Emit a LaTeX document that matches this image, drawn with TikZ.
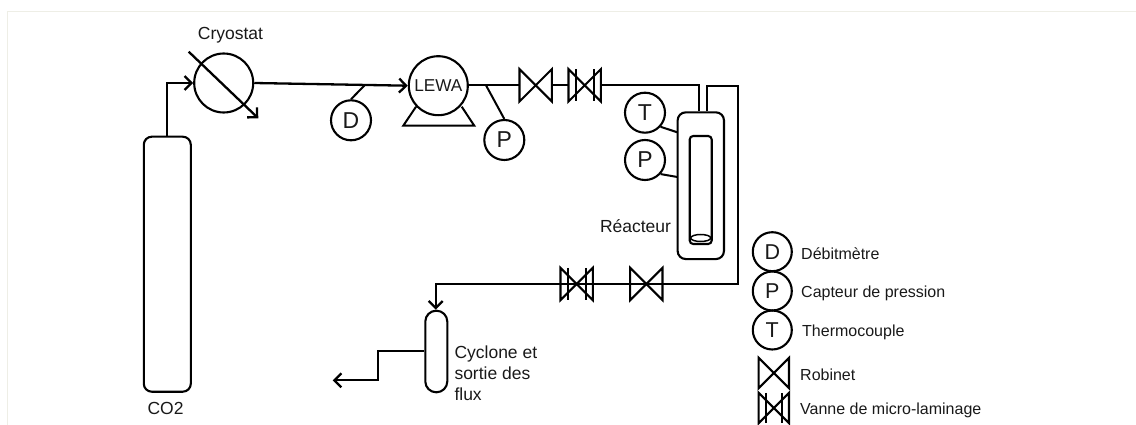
\documentclass[tikz,border=0pt]{standalone}
\usepackage{fontspec}
\setmainfont{Liberation Sans}
\usetikzlibrary{arrows.meta,shapes.geometric}
\definecolor{framecol}{HTML}{EEEEE6}
\tikzset{
  x=1pt,y=-1pt,
  pipe/.style={draw=black,line width=2.3pt},
  flow/.style={pipe,-{Straight Barb[length=7pt,width=14pt,line width=2.3pt]}},
  thin link/.style={draw=black,line width=2pt},
  gauge/.style={circle,draw=black,line width=2.1pt,minimum size=40pt,inner sep=0pt,font=\fontsize{23}{24}\selectfont,text=black!90},
  smallgauge/.style={gauge,minimum size=39pt,font=\fontsize{21.5}{24}\selectfont},
  bigcircle/.style={circle,draw=black,line width=2.1pt,minimum size=59pt,inner sep=0pt,font=\fontsize{17.2}{20}\selectfont,text=black!90},
  valvebox/.style={rectangle,inner sep=0pt,minimum width=32pt,minimum height=32pt},
  legendvalvebox/.style={rectangle,inner sep=0pt,minimum width=30pt,minimum height=30pt},
  label text/.style={inner sep=0pt,font=\fontsize{17.5}{21}\selectfont,text=black!90},
  legend text/.style={inner sep=0pt,anchor=west,font=\fontsize{16}{19}\selectfont,text=black!90},
  vessel/.style={draw=black,line width=2.1pt,inner sep=0pt},
}
\newcommand{\valvetie}[1]{%
  \draw[pipe,line width=2.1pt,line join=miter] (#1.north west)--(#1.south east)--(#1.north east)--(#1.south west)--cycle;}
\newcommand{\microvalve}[1]{%
  \valvetie{#1}
  \draw[pipe,line width=2.1pt] ([xshift=7.3pt]#1.north west)--([xshift=7.3pt]#1.south west)
     ([xshift=-7.3pt]#1.north east)--([xshift=-7.3pt]#1.south east);}
\begin{document}
\begin{tikzpicture}
\useasboundingbox (0,0) rectangle (1136,425);
\coordinate (fa) at (7.5,425);
\coordinate (fb) at (7.5,11.5);
\coordinate (fc) at (1136,11.5);
\draw[draw=framecol,line width=1pt] (fa)--(fb)--(fc);

% CO2 tank
\node[vessel,rounded corners=8pt,minimum width=47pt,minimum height=255pt] (tank) at (167.3,264.2) {};
\node[label text] (co2) at (165.5,408) {CO2};

% cryostat
\node[bigcircle] (cryo) at (223.7,83) {};
\node[label text,anchor=center] (cryotxt) at (230.5,35.5) {Cryostat};
\coordinate (ca) at (188.7,51.7);
\coordinate (cb) at (258.3,118.3);
\draw[flow] (ca)--(cb);
\coordinate (t1) at (166.7,83);
\draw[flow] (tank.north -| t1)--(t1)--(cryo.west);

% pump
\node[bigcircle] (lewa) at (438.3,85.7) {LEWA};
\coordinate (ba) at (416,106.7);
\coordinate (bb) at (403.3,125.7);
\coordinate (bc) at (474.3,125.7);
\coordinate (bd) at (461.7,106.7);
\draw[pipe,line width=2pt] (ba)--(bb)--(bc)--(bd);
\draw[flow] (cryo.east)--(lewa.west);

% D gauge
\node[gauge] (d1) at (351,120.3) {D};
\coordinate (dtap) at (364.3,85.6);
\draw[thin link] (dtap)--(d1.north);

% valves top
\node[valvebox] (v1) at (535.7,85.3) {};
\node[valvebox] (v2) at (584.7,85.3) {};
\valvetie{v1}
\microvalve{v2}
\draw[pipe] (lewa.east |- v1.west)--(v1.west);
\draw[pipe] (v1.east)--(v2.west);

% P gauge
\node[gauge] (p1) at (504.3,140) {P};
\coordinate (ptap) at (486,85.3);
\draw[thin link] (ptap)--(p1.north);

% reactor
\node[vessel,rounded corners=8pt,minimum width=46.3pt,minimum height=146.7pt] (reac) at (700.8,185.7) {};
\node[vessel,rounded corners=3.5pt,minimum width=22pt,minimum height=108pt] (inner) at (700.7,190) {};
\node[draw=black,line width=1.5pt,ellipse,minimum width=20pt,minimum height=7pt,inner sep=0pt] (melt) at (700.7,238) {};
\node[label text,anchor=center] (reactxt) at (635.5,225.7) {Réacteur};
\coordinate (r1) at (699.3,85.3);
\coordinate (r2) at (707,85.8);
\coordinate (r3) at (737.7,85.8);
\coordinate (r4) at (737.7,284);
\coordinate (r5) at (435.7,284);
\draw[pipe] (v2.east)--(r1)--(r1 |- reac.north);
\node[gauge] (t1g) at (645,112.7) {T};
\node[gauge] (p2) at (645,160) {P};
\coordinate (lt) at (677.3,132.3);
\coordinate (lp) at (677.3,177);
\draw[thin link] (t1g.-42)--(lt);
\draw[thin link] (p2.-42)--(lp);

% cyclone
\node[vessel,rounded corners=10.9pt,minimum width=22pt,minimum height=81.6pt] (cyc) at (436.3,351.5) {};
\draw[flow,line join=miter] (r2 |- reac.north)--(r2)--(r3)--(r4)--(r5)--(cyc.north -| r5);
\coordinate (o1) at (378.3,351);
\coordinate (o2) at (378.3,380.3);
\coordinate (o3) at (332.7,380.3);
\draw[flow] (cyc.west |- o1)--(o1)--(o2)--(o3);
\node[label text,anchor=north west,align=left] (cyctxt) at (454.3,346) {Cyclone et\\sortie des\\flux};

% valves bottom
\node[valvebox] (v3) at (576.7,284) {};
\node[valvebox] (v4) at (646.3,284) {};
\microvalve{v3}
\valvetie{v4}

% legend
\node[smallgauge] (ld) at (772.3,251.7) {D};
\node[smallgauge] (lp2) at (772.3,291) {P};
\node[smallgauge] (lt2) at (772.3,330) {T};
\node[legend text] (ltd) at (801,253.2) {Débitmètre};
\node[legend text] (ltp) at (801,293.2) {Capteur de pression};
\node[legend text] (ltt) at (802,332.5) {Thermocouple};
\node[legendvalvebox] (lv1) at (773.8,373) {};
\node[legendvalvebox] (lv2) at (773.8,408) {};
\valvetie{lv1}
\microvalve{lv2}
\node[legend text] (ltr) at (800,375) {Robinet};
\node[legend text] (ltv) at (800,410.5) {Vanne de micro-laminage};
\end{tikzpicture}
\end{document}
